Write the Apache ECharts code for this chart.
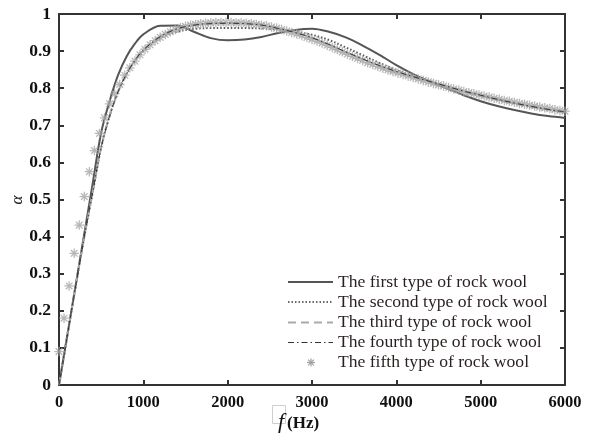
<!DOCTYPE html>
<html><head><meta charset="utf-8">
<script src="https://cdn.jsdelivr.net/npm/echarts@6/dist/echarts.min.js"></script>
<style>html,body{margin:0;padding:0;background:#fff}#c{width:591px;height:437px}</style>
</head><body><div id="c"></div>
<script>
// frequency grid (Hz) for the four curves
var freqs = [0,100,200,300,400,500,600,700,800,900,1000,1200,1400,1600,1800,2000,2200,2400,2600,2800,3000,3200,3400,3600,3800,4000,4200,4400,4600,4800,5000,5200,5400,5600,5800,6000];
var firstType  = [0,0.136,0.272,0.408,0.544,0.68,0.765,0.835,0.885,0.92,0.945,0.968,0.969,0.952,0.935,0.929,0.931,0.938,0.949,0.957,0.960,0.952,0.937,0.915,0.89,0.862,0.838,0.818,0.80,0.781,0.765,0.752,0.741,0.732,0.725,0.72];
var secondType = [0,0.135,0.27,0.40,0.52,0.64,0.725,0.79,0.838,0.873,0.9,0.935,0.952,0.96,0.962,0.962,0.962,0.961,0.958,0.952,0.944,0.93,0.91,0.889,0.868,0.849,0.833,0.819,0.805,0.792,0.78,0.769,0.759,0.75,0.742,0.735];
var thirdType  = [0,0.135,0.27,0.40,0.52,0.64,0.725,0.79,0.838,0.875,0.903,0.939,0.960,0.970,0.975,0.976,0.975,0.971,0.962,0.950,0.935,0.917,0.897,0.878,0.860,0.844,0.830,0.817,0.804,0.791,0.780,0.769,0.759,0.750,0.742,0.735];
var fourthType = [0,0.135,0.27,0.40,0.52,0.64,0.725,0.79,0.838,0.875,0.903,0.939,0.960,0.970,0.974,0.975,0.974,0.970,0.961,0.950,0.936,0.918,0.898,0.879,0.861,0.845,0.831,0.818,0.805,0.792,0.781,0.770,0.760,0.751,0.743,0.736];
// fifth type: markers every 60 Hz from 0 to 6000
var starFreqStep = 60;
var fifthType = [0.09,0.18,0.267,0.355,0.431,0.508,0.575,0.632,0.678,0.72,0.758,0.785,0.81,0.835,0.855,0.873,0.89,0.905,0.917,0.928,0.937,0.945,0.952,0.958,0.963,0.967,0.970,0.972,0.974,0.975,0.976,0.977,0.977,0.977,0.977,0.976,0.976,0.975,0.974,0.972,0.970,0.968,0.965,0.962,0.958,0.954,0.950,0.946,0.942,0.937,0.932,0.927,0.922,0.916,0.910,0.904,0.898,0.892,0.886,0.880,0.875,0.869,0.864,0.859,0.854,0.849,0.845,0.841,0.837,0.833,0.829,0.825,0.821,0.817,0.813,0.809,0.806,0.802,0.798,0.795,0.791,0.788,0.785,0.782,0.779,0.776,0.773,0.770,0.767,0.765,0.762,0.759,0.757,0.754,0.752,0.749,0.747,0.745,0.742,0.740,0.738];
var legendNames = ['The first type of rock wool','The second type of rock wool','The third type of rock wool','The fourth type of rock wool','The fifth type of rock wool'];

function pairs(xs, ys){ return ys.map(function(v,i){ return [xs[i], v]; }); }
var starData = fifthType.map(function(v,i){ return [i*starFreqStep, v]; });

var serif = '"Liberation Serif","DejaVu Serif",serif';
var frameColor = '#333';
var chart = echarts.init(document.getElementById('c'), null, {renderer:'canvas'});
var asterisk = 'path://M0,-10L0,10M-10,0L10,0M-7,-7L7,7M-7,7L7,-7';

function axisCommon(){
  return {
    axisLine:{show:true, onZero:false, lineStyle:{color:frameColor, width:2}},
    axisTick:{show:true, inside:true, length:5, lineStyle:{color:frameColor, width:2}},
    splitLine:{show:false}
  };
}
var legendY = [282, 302, 322.5, 342.5, 362.5];
var legendStyles = [
  {stroke:'#555', lineWidth:2},
  {stroke:'#666', lineWidth:2, lineDash:[1.5,2]},
  {stroke:'#aaa', lineWidth:2, lineDash:[8,5]},
  {stroke:'#333', lineWidth:1, lineDash:[6,3,1.5,3]}
];
var graphics = [];
for (var i=0;i<4;i++){
  graphics.push({type:'line', shape:{x1:288, y1:legendY[i], x2:333, y2:legendY[i]}, style:legendStyles[i], z:10});
}
// legend asterisk
var ax = 311, ay = legendY[4], r = 4, d = 2.9;
[[0,-r,0,r],[-r,0,r,0],[-d,-d,d,d],[-d,d,d,-d]].forEach(function(s){
  graphics.push({type:'line', shape:{x1:ax+s[0], y1:ay+s[1], x2:ax+s[2], y2:ay+s[3]}, style:{stroke:'#a0a0a0', lineWidth:1.2}, z:10});
});
for (var j=0;j<5;j++){
  graphics.push({type:'text', x:338, y:legendY[j], style:{text:legendNames[j], font:'17.6px '+serif, fill:'#2a1f1f', verticalAlign:'middle', textVerticalAlign:'middle'}, z:10});
}
graphics.push({type:'text', x:18, y:200, rotation:Math.PI/2, style:{text:'α', font:'italic 17px '+serif, fill:'#222', align:'center', verticalAlign:'middle', textAlign:'center', textVerticalAlign:'middle'}});
graphics.push({type:'rect', shape:{x:272.5, y:405.5, width:13, height:18}, style:{fill:null, stroke:'#cfcfcf', lineWidth:1}});
graphics.push({type:'text', x:281, y:422, style:{text:'f', font:'italic 22px '+serif, fill:'#111', align:'center', verticalAlign:'middle', textAlign:'center', textVerticalAlign:'middle'}});
graphics.push({type:'text', x:287, y:424, style:{text:'(Hz)', font:'bold 17px '+serif, fill:'#111', align:'left', verticalAlign:'middle', textAlign:'left', textVerticalAlign:'middle'}});

var xBottom = Object.assign({type:'value', min:0, max:6000, interval:1000, position:'bottom',
  axisLabel:{color:'#111', fontFamily:serif, fontWeight:'bold', fontSize:16.5, margin:9,
    formatter:function(v){ return String(Math.round(v)); }}}, axisCommon());
var xTop = Object.assign({type:'value', min:0, max:6000, interval:1000, position:'top', axisLabel:{show:false}}, axisCommon());
var yLeft = Object.assign({type:'value', min:0, max:1, interval:0.1, position:'left',
  axisLabel:{color:'#111', fontFamily:serif, fontWeight:'bold', fontSize:17.5, margin:8,
    formatter:function(v){ return String(+(+v).toFixed(1)); }}}, axisCommon());
var yRight = Object.assign({type:'value', min:0, max:1, interval:0.1, position:'right', axisLabel:{show:false}}, axisCommon());

var option = {
  animation:false,
  backgroundColor:'#fff',
  grid:{left:59, right:26, top:14, bottom:52, containLabel:false},
  xAxis:[xBottom, xTop],
  yAxis:[yLeft, yRight],
  series:[
    {name:legendNames[0], type:'line', data:pairs(freqs, firstType), smooth:0.35, symbol:'none', lineStyle:{color:'#555', width:2}, z:3},
    {name:legendNames[1], type:'line', data:pairs(freqs, secondType), smooth:0.35, symbol:'none', lineStyle:{color:'#5a5a5a', width:2, type:[1.5,2]}, z:3},
    {name:legendNames[2], type:'line', data:pairs(freqs, thirdType), smooth:0.35, symbol:'none', lineStyle:{color:'#aaa', width:2, type:[8,5]}, z:3},
    {name:legendNames[4], type:'scatter', data:starData, symbol:asterisk, symbolSize:9.5, itemStyle:{color:'rgba(0,0,0,0)', borderColor:'#a6a6a6', borderWidth:1.3}, z:4},
    {name:legendNames[3], type:'line', data:pairs(freqs, fourthType), smooth:0.35, symbol:'none', lineStyle:{color:'#333', width:1, type:[6,3,1.5,3]}, z:5}
  ],
  graphic:graphics
};
chart.setOption(option);
</script></body></html>
